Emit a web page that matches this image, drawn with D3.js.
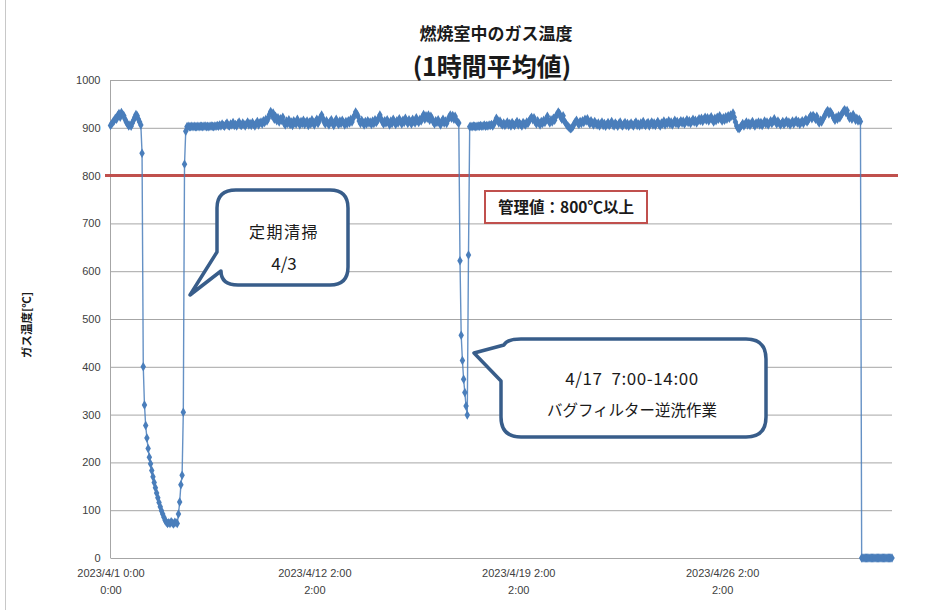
<!DOCTYPE html>
<html><head><meta charset="utf-8">
<script src="https://cdn.jsdelivr.net/npm/d3@7"></script>
<style>
html,body{margin:0;padding:0;background:#fff;}
svg{display:block;}
</style>
</head><body>
<svg id="chart" width="926" height="610"></svg>
<script>
// ---- DATA (hourly average gas temperature, °C) ----
const tempBefore = [905,908,912,915,920,918,926,930,922,932,928,925,918,912,908,904,906,903,910,916,922,928,925,918,912,906];
const tempCleaning = [847,400,320,277,251,229,211,197,183,170,158,147,136,126,116,107,99,92,85,79,75,72,74,72,76,73,71,75,74,72,92,117,153,173,305,824];
const tempMiddle = [
893,902,903,902,902,903,902,903,902,902,903,902,903,903,902,903,904,902,903,902,903,904,903,902,904,903,
905,903,906,904,908,905,903,907,910,905,904,908,906,911,905,907,904,909,912,906,905,910,907,904,908,912,906,909,905,911,907,904,909,913,906,910,
912,908,915,911,918,914,920,
928,934,926,931,
918,924,915,921,912,919,916,922,
910,906,914,909,917,907,912,905,915,910,908,918,911,906,913,909,916,907,911,914,905,912,908,917,910,906,913,918,909,915,922,927,920,
912,908,915,910,906,913,917,909,905,912,918,910,907,914,909,916,911,906,913,908,915,910,918,912,920,
926,933,929,924,
914,909,916,911,906,913,908,915,910,912,907,914,909,917,911,915,
921,927,919,
912,908,915,910,917,911,906,914,909,918,912,907,915,910,919,913,908,916,911,920,914,909,917,912,908,918,913,910,921,915,911,918,914,
922,928,918,925,920,927,916,924,919,
912,908,915,911,917,910,906,913,918,910,914,909,916,
922,927,920,926,918,924,
916,912,910];
const tempBackwash = [622,466,413,374,346,318,299,634];
const tempAfter = [
902,903,902,904,903,902,903,904,903,905,903,904,906,903,905,904,906,905,907,904,
908,913,920,916,910,914,908,
906,910,905,908,912,906,909,904,911,907,905,909,913,906,910,907,904,911,908,906,912,909,914,
919,922,917,921,
912,908,915,910,906,913,909,916,911,918,
924,
915,910,917,912,920,916,924,928,
933,930,
922,918,925,914,910,906,903,900,
898,899,902,
908,912,916,910,907,913,909,915,911,918,914,919,912,908,915,910,906,913,909,
906,910,904,908,912,905,909,903,907,911,905,908,913,906,904,910,907,903,909,912,906,904,908,911,905,909,903,907,910,906,904,909,912,905,908,904,910,906,913,907,905,909,911,904,908,912,906,910,905,909,913,907,904,910,908,914,906,911,909,915,908,912,906,910,916,909,913,907,911,915,910,914,908,912,917,911,915,909,913,918,912,916,910,914,919,
915,920,913,918,922,916,921,914,919,923,917,912,920,915,922,918,925,
919,914,921,916,923,918,925,920,927,924,
931,
922,912,904,899,898,901,
905,909,904,908,912,906,910,905,909,913,907,904,910,908,912,906,911,905,909,914,908,912,906,910,915,909,913,919,912,908,914,910,906,
909,913,907,911,915,909,912,906,910,914,908,912,916,910,913,907,911,915,909,914,918,912,916,
921,925,919,926,922,918,924,
914,910,916,912,918,922,928,
933,936,929,934,931,926,
920,916,922,918,925,921,927,930,
935,938,932,936,
926,920,924,918,928,922,916,920,914,918,913];
const tempStopped = [0,0,0,0,0,0,0,0,0,0,0,0,0,0,0,0,0,0,0,0,0,0,0,0,0,0];

const yTicks = [0,100,200,300,400,500,600,700,800,900,1000];
const xTickIndex = [0,168,336,504];
const xTickLabels = [["2023/4/1 0:00","0:00"],["2023/4/12 2:00","2:00"],["2023/4/19 2:00","2:00"],["2023/4/26 2:00","2:00"]];
const limitValue = 800;
const titleLines = ["燃焼室中のガス温度","(1時間平均値)"];
const yTitle = "ガス温度[℃]";
const limitLabel = "管理値：800℃以上";
const callout1 = ["定期清掃","4/3"];
const callout2 = ["4/17  7:00-14:00","バグフィルター逆洗作業"];

// ---- DRAW ----
const temps = [].concat(tempBefore,tempCleaning,tempMiddle,tempBackwash,tempAfter,tempStopped);
const data = temps.map((v,i)=>({i,v}));

const svg = d3.select("#chart");
const L=110.5, R=892, T=80, B=558;
const x = d3.scaleLinear().domain([0,temps.length-1]).range([L,R]);
const y = d3.scaleLinear().domain([0,1000]).range([B,T]);

const jp = "'Noto Sans CJK JP','Noto Sans',sans-serif";
const lat = "'Liberation Sans',Arial,sans-serif";

// chart-area left border
svg.append("line").attr("x1",5.5).attr("x2",5.5).attr("y1",0).attr("y2",610).attr("stroke","#c8c8c8");

// gridlines + y labels
const gy = svg.append("g").attr("transform",`translate(${L},0)`)
  .call(d3.axisLeft(y).tickValues(yTicks).tickSize(-(R-L)).tickPadding(10).tickFormat(d3.format("d")));
gy.select(".domain").remove();
gy.selectAll(".tick line").attr("stroke","#a6a6a6").attr("stroke-width",1);
gy.selectAll(".tick text").attr("font-family",lat).attr("font-size",11).attr("fill","#404040");

// left axis line
svg.append("line").attr("x1",L).attr("x2",L).attr("y1",T).attr("y2",B).attr("stroke","#a6a6a6");

// x axis labels
const gx = svg.append("g").attr("transform",`translate(0,${B})`)
  .call(d3.axisBottom(x).tickValues(xTickIndex).tickSize(0).tickPadding(10).tickFormat(""));
gx.select(".domain").remove();
gx.selectAll(".tick").each(function(d,k){
  const t = d3.select(this).select("text").attr("font-family",lat).attr("font-size",11).attr("fill","#404040").attr("dy",null).attr("y",0);
  t.selectAll("tspan").data(xTickLabels[k]).enter().append("tspan")
    .attr("x",0).attr("y",(s,j)=>19+j*17).attr("text-anchor","middle").text(s=>s);
});

// limit line
svg.append("line").attr("x1",105).attr("x2",898).attr("y1",y(limitValue)).attr("y2",y(limitValue))
  .attr("stroke","#c0504d").attr("stroke-width",3);

// data line + markers
const color = "#4a7ebb";
svg.append("path").datum(data)
  .attr("d",d3.line().x(d=>x(d.i)).y(d=>y(d.v)))
  .attr("fill","none").attr("stroke",color).attr("stroke-width",1.4).attr("stroke-opacity",0.85);
svg.append("g").selectAll("path").data(data).enter().append("path")
  .attr("transform",d=>`translate(${x(d.i)},${y(d.v)})`)
  .attr("d",d3.symbol().type(d3.symbolDiamond).size(26))
  .attr("fill",color);

// titles
svg.append("text").attr("x",496).attr("y",40).attr("text-anchor","middle")
  .attr("font-family",jp).attr("font-weight","bold").attr("font-size",17).attr("fill","#1a1a1a").text(titleLines[0]);
svg.append("text").attr("x",492).attr("y",76).attr("text-anchor","middle")
  .attr("font-family",jp).attr("font-weight","bold").attr("font-size",25).attr("fill","#1a1a1a").text(titleLines[1]);

// y title
svg.append("text").attr("transform","translate(31,325) rotate(-90)").attr("text-anchor","middle")
  .attr("font-family",jp).attr("font-weight","bold").attr("font-size",11.5).attr("fill","#1a1a1a").text(yTitle);

// limit label box
svg.append("rect").attr("x",485).attr("y",191).attr("width",162).attr("height",32)
  .attr("fill","#fff").attr("stroke","#c0504d").attr("stroke-width",2);
svg.append("text").attr("x",566).attr("y",213).attr("text-anchor","middle")
  .attr("font-family",jp).attr("font-weight","bold").attr("font-size",15.5).attr("fill","#1a1a1a").text(limitLabel);

// callouts
const cStroke = "#385d8a";
svg.append("path")
  .attr("d","M236,190 H330 Q348,190 348,208 V267 Q348,285 330,285 H238 Q221,285 221,271 L190,295 L217,252 V208 Q217,190 236,190 Z")
  .attr("fill","#fff").attr("stroke",cStroke).attr("stroke-width",3.5).attr("stroke-linejoin","round");
svg.append("text").attr("x",284).attr("y",238).attr("text-anchor","middle")
  .attr("font-family",jp).attr("font-size",16).attr("letter-spacing",1.5).attr("fill","#1a1a1a").text(callout1[0]);
svg.append("text").attr("x",284).attr("y",270).attr("text-anchor","middle")
  .attr("font-family",jp).attr("font-size",17).attr("fill","#1a1a1a").text(callout1[1]);

svg.append("path")
  .attr("d","M521,339 H746 Q766,339 766,359 V417 Q766,437 746,437 H521 Q501,437 501,417 V381 L474,353 L504,345 Q507,339 521,339 Z")
  .attr("fill","#fff").attr("stroke",cStroke).attr("stroke-width",3.5).attr("stroke-linejoin","round");
svg.append("text").attr("x",632).attr("y",385).attr("text-anchor","middle")
  .attr("font-family",jp).attr("font-size",17).attr("letter-spacing",0.6).attr("fill","#1a1a1a").text(callout2[0].replace(/ /g,"\u00a0"));
svg.append("text").attr("x",632).attr("y",416).attr("text-anchor","middle")
  .attr("font-family",jp).attr("font-size",15.5).attr("fill","#1a1a1a").text(callout2[1]);
</script>
</body></html>
